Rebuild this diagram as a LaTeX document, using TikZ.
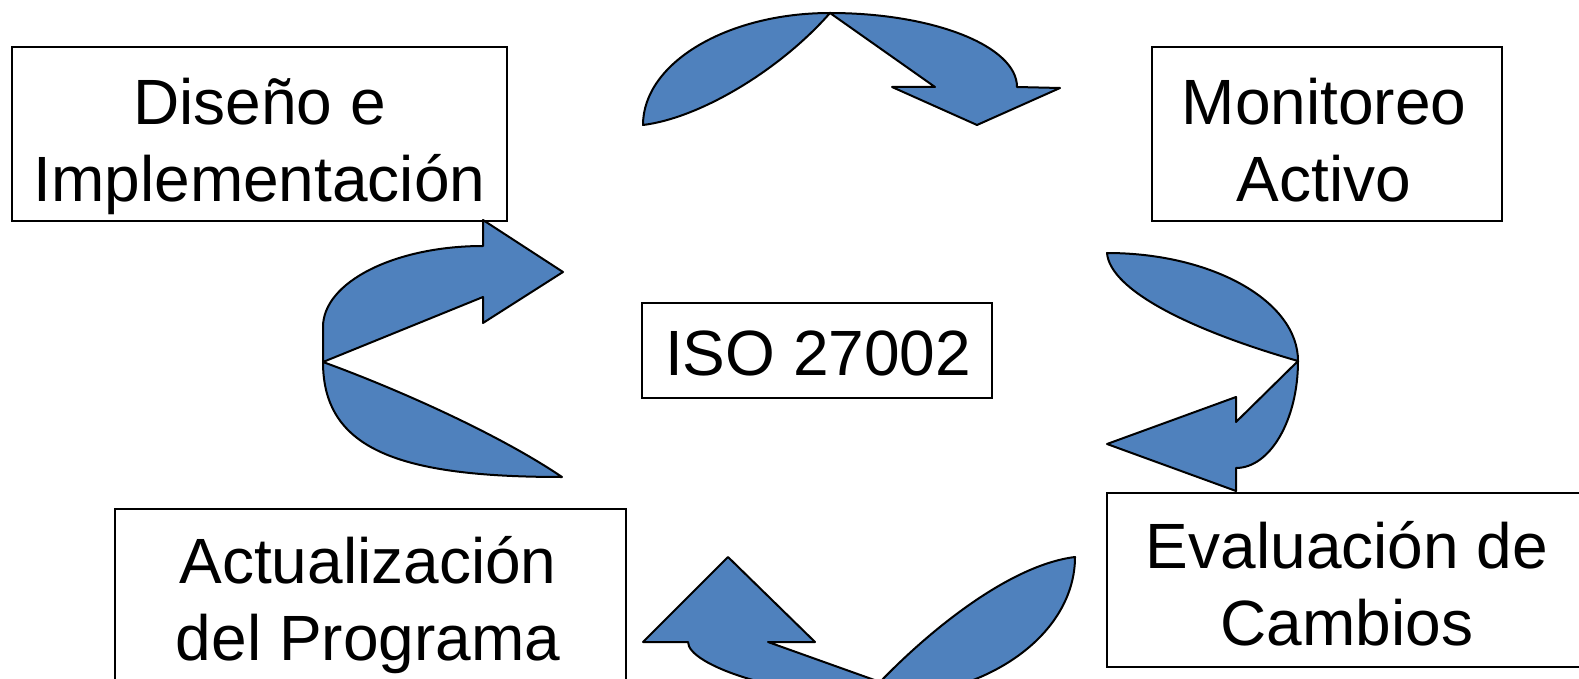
\documentclass[tikz,border=0pt]{standalone}
\usepackage{fontspec}
\setmainfont{Liberation Sans}
\definecolor{arrowblue}{RGB}{79,129,189}
\tikzset{
  box/.style={draw=black, line width=1pt, fill=white, inner sep=0pt},
  lbl/.style={inner sep=0pt, anchor=base, font=\fontsize{32}{38.5}\selectfont},
  curved/.style={fill=arrowblue, draw=black, line width=1pt, line join=round}
}
\newcommand{\twolines}[2]{\begin{tabular}[b]{@{}c@{}}#1\\#2\end{tabular}}
\begin{document}
\begin{tikzpicture}[x=0.5pt,y=-0.5pt]
\useasboundingbox (0,0) rectangle (1579,679);
\clip (0,0) rectangle (1579,679);

% stage boxes
\node[box, minimum width=247.5pt, minimum height=87pt] (dis) at (259.5,134) {};
\node[box, minimum width=175pt, minimum height=87pt] (mon) at (1327,134) {};
\node[box, minimum width=242pt, minimum height=87pt] (eva) at (1349,580) {};
\node[box, minimum width=255.5pt, minimum height=87pt] (act) at (370.5,596) {};
\node[box, minimum width=175pt, minimum height=47.5pt] (iso) at (817,350.5) {};

% box texts
\node[lbl] (dis-t) at (259.5,202) {\twolines{Diseño e}{Implementación}};
\node[lbl] (mon-t) at (1324,202) {\twolines{Monitoreo}{Activo}};
\node[lbl] (eva-t) at (1347,645) {\twolines{Evaluación de}{Cambios}};
\node[lbl] (act-t) at (368,660) {\twolines{Actualización}{del Programa}};
\node[lbl] (iso-t) at (818,375) {ISO 27002};

% curved arrows of the cycle
% top: towards Monitoreo Activo
\draw[curved] (643,125) .. controls (643,63) and (727,13) .. (830,13)
  .. controls (933,13) and (1017,46) .. (1017,87) -- (1060,88) -- (977,125)
  -- (892,87) -- (935,87) -- (830,13)
  .. controls (780,70) and (700,118) .. (643,125) -- cycle;
% right: towards Evaluacion de Cambios
\draw[curved] (1107,253) .. controls (1212,253) and (1298,301) .. (1298,361)
  .. controls (1298,420) and (1270,468) .. (1236,468) -- (1236,491) -- (1107,444)
  -- (1236,397) -- (1236,422) -- (1298,361)
  .. controls (1190,330) and (1110,290) .. (1107,253) -- cycle;
% bottom: towards Actualizacion del Programa
\draw[curved] (880,697) .. controls (780,697) and (688,665) .. (688,642)
  -- (643,642) -- (728,557) -- (815,642) -- (768,642) -- (880,682)
  .. controls (930,630) and (1010,565) .. (1075,557)
  .. controls (1075,634) and (988,697) .. (880,697) -- cycle;
% left: towards Diseno e Implementacion
\draw[curved] (562,477) .. controls (400,477) and (323,450) .. (323,362)
  -- (323,327) .. controls (323,282) and (395,246) .. (483,246) -- (483,220)
  -- (563,272) -- (483,323) -- (483,297) -- (323,362)
  .. controls (400,390) and (500,435) .. (562,477) -- cycle;
\end{tikzpicture}
\end{document}
